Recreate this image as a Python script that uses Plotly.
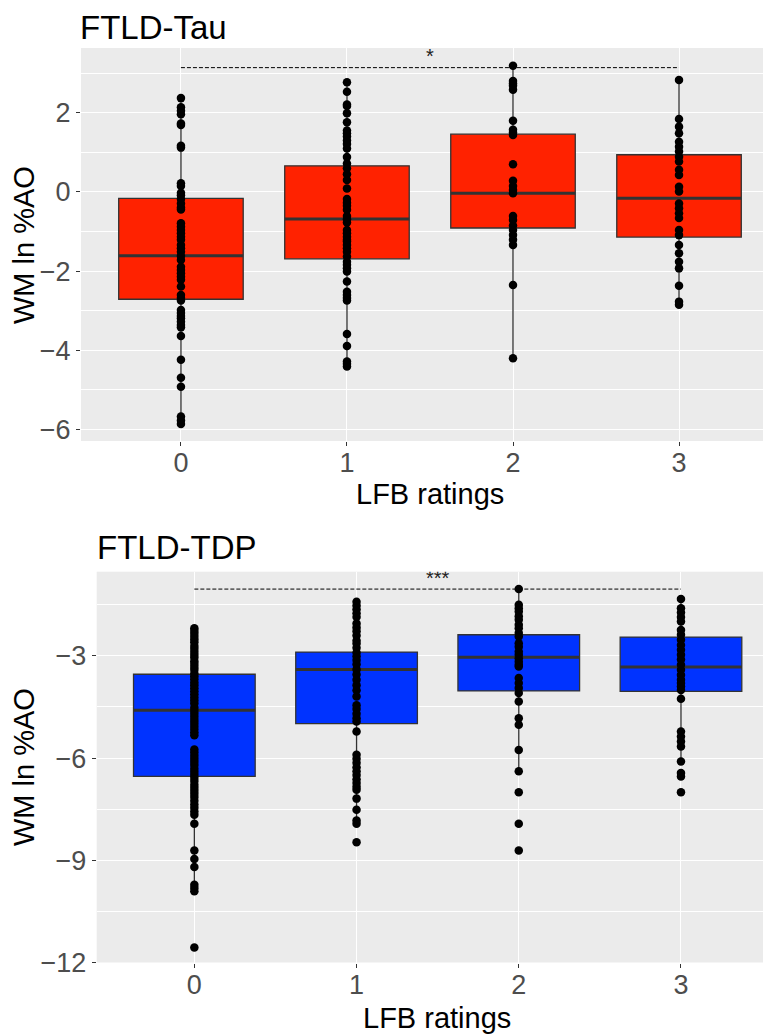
import plotly.graph_objects as go

# The page body adds an 8px margin; the figure is sized/positioned to compensate.
OFF = 8
W, H = 771 - OFF, 1034 - OFF

categories = [0, 1, 2, 3]
cat_labels = ["0", "1", "2", "3"]

# ---------------- FTLD-Tau (top panel) ----------------
tau_0 = [2.37, 2.14, 2.05, 1.96, 1.73, 1.69, 1.17, 1.12, 0.22, 0.15, -0.02, -0.08, -0.18, -0.29,
         -0.39, -0.44, -0.79, -0.88, -0.96, -1.04, -1.13, -1.21, -1.34, -1.42, -1.51, -1.62,
         -1.72, -1.89, -1.97, -2.05, -2.14, -2.22, -2.39, -2.60, -2.68, -2.74, -2.98, -3.06,
         -3.13, -3.19, -3.28, -3.36, -3.42, -3.64, -4.24, -4.69, -4.92, -5.67, -5.77, -5.86]
tau_1 = [2.77, 2.53, 2.21, 2.17, 1.99, 1.76, 1.55, 1.48, 1.40, 1.30, 1.21, 1.10, 0.88, 0.72,
         0.60, 0.45, 0.30, 0.09, -0.18, -0.27, -0.35, -0.45, -0.61, -0.69, -0.77, -0.96, -1.04,
         -1.13, -1.21, -1.25, -1.34, -1.42, -1.51, -1.63, -1.76, -1.84, -1.93, -2.01, -2.26,
         -2.52, -2.60, -2.68, -2.74, -3.59, -3.89, -4.28, -4.34, -4.41]
tau_2 = [3.19, 2.80, 2.74, 2.68, 2.58, 1.80, 1.57, 1.50, 1.44, 0.70, 0.28, 0.15, 0.05, -0.03,
         -0.61, -0.71, -0.85, -0.96, -1.09, -1.21, -1.34, -2.35, -4.20]
tau_3 = [2.83, 1.84, 1.65, 1.48, 1.27, 1.14, 1.02, 0.89, 0.77, 0.56, 0.43, 0.13, 0.01, -0.29,
         -0.41, -0.54, -0.66, -0.96, -1.09, -1.34, -1.55, -1.76, -1.93, -2.37, -2.77, -2.85]

tau_q1 = [-2.71, -1.69, -0.91, -1.14]
tau_median = [-1.61, -0.68, -0.03, -0.16]
tau_q3 = [-0.16, 0.66, 1.46, 0.94]
tau_lower = [-5.86, -4.41, -4.20, -2.85]
tau_upper = [2.37, 2.77, 3.19, 2.83]

tau_sig_y = 3.14
tau_sig_label = "*"
tau_yticks = [-6, -4, -2, 0, 2]
tau_yticktext = ["\u22126", "\u22124", "\u22122", "0", "2"]
tau_minor = [-5, -3, -1, 1, 3]

# ---------------- FTLD-TDP (bottom panel) ----------------
tdp_0 = [-2.19, -2.27, -2.35, -2.44, -2.52, -2.60, -2.71, -2.79, -2.88, -2.97, -3.05, -3.16,
         -3.24, -3.33, -3.41, -3.52, -3.60, -3.69, -3.78, -3.86, -3.95, -4.04, -4.13, -4.22,
         -4.31, -4.40, -4.52, -4.61, -4.70, -4.79, -4.88, -4.97, -5.06, -5.15, -5.24, -5.33,
         -5.75, -5.84, -5.93, -6.02, -6.11, -6.20, -6.31, -6.40, -6.49, -6.58, -6.67, -6.78,
         -6.87, -6.96, -7.05, -7.14, -7.25, -7.36, -7.46, -7.57, -7.66, -7.93, -8.71, -8.96,
         -9.20, -9.72, -9.81, -9.91, -11.56]
tdp_1 = [-1.41, -1.52, -1.63, -1.75, -1.86, -2.05, -2.17, -2.28, -2.40, -2.55, -2.64, -2.76,
         -2.90, -3.01, -3.12, -3.25, -3.40, -3.55, -3.70, -3.86, -4.01, -4.19, -4.45, -4.56,
         -4.70, -4.83, -4.93, -5.22, -5.90, -6.02, -6.14, -6.27, -6.39, -6.50, -6.62, -6.73,
         -6.84, -6.93, -7.19, -7.52, -7.83, -7.93, -8.47]
tdp_2 = [-1.04, -1.50, -1.60, -1.70, -1.84, -1.94, -2.09, -2.19, -2.33, -2.43, -2.63, -2.73,
         -2.87, -2.97, -3.07, -3.17, -3.26, -3.31, -3.65, -3.80, -3.94, -4.09, -4.34, -4.83,
         -5.02, -5.76, -6.39, -7.00, -7.93, -8.71]
tdp_3 = [-1.33, -1.60, -1.73, -1.86, -1.99, -2.24, -2.38, -2.53, -2.68, -2.82, -2.97, -3.11,
         -3.26, -3.41, -3.56, -3.70, -3.80, -3.90, -4.00, -4.26, -5.22, -5.37, -5.51, -5.66,
         -6.10, -6.44, -6.54, -7.00]

tdp_q1 = [-6.54, -4.99, -4.03, -4.04]
tdp_median = [-4.60, -3.40, -3.04, -3.33]
tdp_q3 = [-3.54, -2.89, -2.38, -2.45]
tdp_lower = [-9.91, -7.93, -6.39, -6.10]
tdp_upper = [-2.19, -1.41, -1.04, -1.33]

tdp_sig_y = -1.04
tdp_sig_label = "***"
tdp_yticks = [-12, -9, -6, -3]
tdp_yticktext = ["\u221212", "\u22129", "\u22126", "\u22123"]
tdp_minor = [-10.5, -7.5, -4.5, -1.5]

# ---------------- styling ----------------
FONT = "Liberation Sans, Arial, Helvetica, sans-serif"
RED = "#FF2200"
BLUE = "#0033FF"
OUTLINE = "#333333"
BOX_W = 0.75
TICK_SIZE = 27

fig = go.Figure()


def add_panel(points, q1, med, q3, lo, hi, fill, sig_y, sig_label, xa, ya, sig_dy):
    fig.add_trace(go.Box(
        x=categories, q1=q1, median=med, q3=q3, lowerfence=lo, upperfence=hi,
        width=BOX_W, fillcolor=fill, line=dict(color=OUTLINE, width=1.3),
        whiskerwidth=0, boxpoints=False, hoverinfo="skip",
        xaxis=xa, yaxis=ya,
    ))
    # thicker median lines (ggplot style)
    mx, my = [], []
    for c, m in zip(categories, med):
        mx += [c - BOX_W / 2, c + BOX_W / 2, None]
        my += [m, m, None]
    fig.add_trace(go.Scatter(x=mx, y=my, mode="lines",
                             line=dict(color=OUTLINE, width=3),
                             hoverinfo="skip", xaxis=xa, yaxis=ya))
    for c, pts in zip(categories, points):
        fig.add_trace(go.Scatter(
            x=[c] * len(pts), y=pts, mode="markers",
            marker=dict(color="black", size=8.5),
            hoverinfo="skip", xaxis=xa, yaxis=ya))
    # significance bracket between first and last category
    fig.add_trace(go.Scatter(
        x=[categories[0], categories[-1]], y=[sig_y, sig_y], mode="lines",
        line=dict(color="black", width=1, dash="4px,2px"),
        hoverinfo="skip", xaxis=xa, yaxis=ya))
    fig.add_trace(go.Scatter(
        x=[(categories[0] + categories[-1]) / 2], y=[sig_y + sig_dy],
        mode="text", text=[sig_label],
        textfont=dict(size=20, color="#222222", family=FONT),
        hoverinfo="skip", xaxis=xa, yaxis=ya))


add_panel([tau_0, tau_1, tau_2, tau_3], tau_q1, tau_median, tau_q3, tau_lower, tau_upper,
          RED, tau_sig_y, tau_sig_label, "x", "y", 0.24)
add_panel([tdp_0, tdp_1, tdp_2, tdp_3], tdp_q1, tdp_median, tdp_q3, tdp_lower, tdp_upper,
          BLUE, tdp_sig_y, tdp_sig_label, "x2", "y2", 0.27)


def px_x(p):
    return (p - OFF) / W


def px_y(p):
    return 1 - (p - OFF) / H


xcommon = dict(
    tickvals=categories, ticktext=cat_labels, showgrid=True, gridcolor="white",
    gridwidth=1.4, zeroline=False, ticks="outside", ticklen=4, tickwidth=1,
    tickcolor=OUTLINE, tickfont=dict(size=TICK_SIZE, color="#4D4D4D", family=FONT),
    ticklabelstandoff=-6,
    showline=False, automargin=False, fixedrange=True,
)
ycommon = dict(
    showgrid=True, gridcolor="white", gridwidth=1.4, zeroline=False,
    ticks="outside", ticklen=4, tickwidth=1, tickcolor=OUTLINE,
    tickfont=dict(size=TICK_SIZE, color="#4D4D4D", family=FONT),
    showline=False, automargin=False, fixedrange=True,
)

fig.update_layout(
    width=W, height=H, margin=dict(l=0, r=0, t=0, b=0),
    paper_bgcolor="white", plot_bgcolor="#EBEBEB", showlegend=False,
    font=dict(family=FONT),
    xaxis=dict(domain=[px_x(81), 1.0], range=[-0.602, 3.554], anchor="y", **xcommon),
    yaxis=dict(domain=[px_y(441), px_y(48)], range=[-6.29, 3.636], anchor="x",
               tickvals=tau_yticks, ticktext=tau_yticktext,
               minor=dict(tickvals=tau_minor, showgrid=True, gridcolor="white",
                          gridwidth=0.7, ticks=""),
               **ycommon),
    xaxis2=dict(domain=[px_x(96.7), 1.0], range=[-0.602, 3.555], anchor="y2", **xcommon),
    yaxis2=dict(domain=[px_y(962.5), px_y(571.7)], range=[-12.0, -0.53], anchor="x2",
                tickvals=tdp_yticks, ticktext=tdp_yticktext,
                minor=dict(tickvals=tdp_minor, showgrid=True, gridcolor="white",
                           gridwidth=0.7, ticks=""),
                **ycommon),
)

annotations = [
    dict(text="FTLD-Tau", x=px_x(79), y=1.0, xanchor="left", yanchor="top",
         font=dict(size=33, color="black", family=FONT), borderpad=0),
    dict(text="FTLD-TDP", x=px_x(95), y=px_y(547), xanchor="left", yanchor="middle",
         font=dict(size=33, color="black", family=FONT)),
    dict(text="LFB ratings", x=px_x(430), y=px_y(494), xanchor="center", yanchor="middle",
         font=dict(size=29, color="black", family=FONT)),
    dict(text="LFB ratings", x=px_x(437), y=px_y(1018), xanchor="center", yanchor="middle",
         font=dict(size=29, color="black", family=FONT)),
    dict(text="WM ln %AO", x=px_x(24), y=px_y(245), xanchor="center", yanchor="middle",
         textangle=-90, font=dict(size=29, color="black", family=FONT)),
    dict(text="WM ln %AO", x=px_x(24), y=px_y(767), xanchor="center", yanchor="middle",
         textangle=-90, font=dict(size=29, color="black", family=FONT)),
]
for a in annotations:
    a.update(xref="paper", yref="paper", showarrow=False)
fig.update_layout(annotations=annotations)

fig.write_html("out.html", config={"displayModeBar": False})
